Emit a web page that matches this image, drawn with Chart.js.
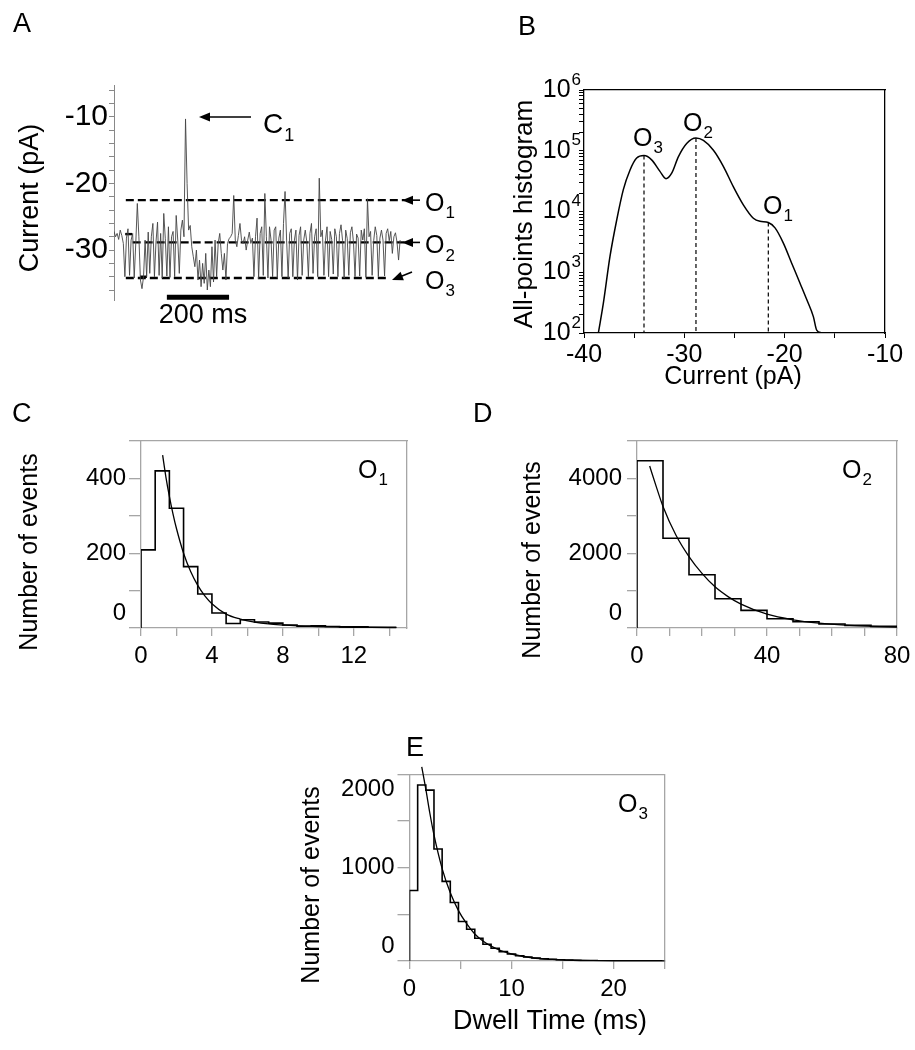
<!DOCTYPE html>
<html>
<head>
<meta charset="utf-8">
<script src="https://cdn.jsdelivr.net/npm/chart.js@4.4.1/dist/chart.umd.min.js"></script>
<style>
  body { margin: 0; background: #fff; }
  #fig { position: relative; width: 915px; height: 1050px; }
  #fig canvas { position: absolute; left: 0; top: 0; }
</style>
</head>
<body>
<div id="fig">
  <canvas id="panelA" width="915" height="1050"></canvas>
  <canvas id="panelB" width="915" height="1050"></canvas>
  <canvas id="panelC" width="915" height="1050"></canvas>
  <canvas id="panelD" width="915" height="1050"></canvas>
  <canvas id="panelE" width="915" height="1050"></canvas>
</div>
<script>
var W = 915, H = 1050;
var FONT = '"Liberation Sans", Arial, Helvetica, sans-serif';
var GRAY = '#a6a6a6';

// ---- A: current trace (pA), one sample every traceStep ms
var traceStep = 5;
var traceValues = [
  -27.2, -28.0, -27.5, -28.4, -27.0, -27.8, -29.0, -34.0, -28.2, -26.8,
  -33.8, -28.5, -27.5, -34.2, -29.0, -23.0, -28.0, -34.5, -35.8, -34.0,
  -28.5, -34.0, -27.3, -33.5, -28.0, -26.0, -34.0, -28.8, -25.8, -33.8,
  -27.5, -34.2, -24.5, -28.3, -33.9, -26.5, -34.1, -28.0, -27.2, -34.0,
  -24.8, -28.5, -33.5, -27.0, -25.5, -28.0, -10.3, -20.0, -27.0, -26.3,
  -29.5, -31.0, -32.5, -30.0, -34.5, -31.5, -35.5, -32.0, -35.0, -30.5,
  -36.0, -33.0, -35.5, -29.5, -34.8, -28.5, -34.0, -29.0, -27.5, -30.5,
  -33.0, -30.5, -34.5, -29.0, -28.3, -28.0, -27.5, -21.8, -28.5, -29.5,
  -27.8, -26.0, -28.5, -29.0, -28.0, -30.0, -28.5, -27.3, -29.0, -28.2,
  -34.0, -28.0, -25.2, -34.3, -27.5, -26.5, -33.8, -21.5, -28.0, -34.2,
  -26.5, -28.5, -34.0, -27.0, -26.5, -34.2, -28.2, -27.0, -34.0, -26.0,
  -21.2, -28.5, -34.2, -27.5, -26.8, -34.0, -28.5, -27.0, -34.5, -27.8,
  -26.5, -33.8, -28.5, -27.0, -28.8, -34.0, -27.5, -26.0, -33.5, -28.0,
  -26.8, -34.0, -19.2, -28.0, -27.0, -33.8, -28.5, -26.5, -34.0, -27.2,
  -28.4, -33.6, -26.8, -28.0, -34.0, -27.5, -26.2, -28.6, -34.2, -27.0,
  -28.3, -33.8, -27.4, -26.5, -28.8, -34.0, -27.6, -28.2, -33.9, -27.0,
  -28.5, -26.8, -34.1, -22.3, -28.0, -27.2, -33.8, -28.6, -26.5, -27.8,
  -34.0, -28.2, -27.0, -28.5, -33.9, -27.5, -26.8, -28.6, -27.2, -30.5,
  -28.0, -27.4, -28.8, -31.5, -28.5
];
var levelNames = ['1', '2', '3'];
var levelValues = [-22.5, -28.85, -34.2];
var levelStart = [38, 60, 38];
var levelEnd = [935, 935, 880];
var markerStart = [36, 84];
var markerEnd = [58, 106];
var markerValues = [-27.6, -34.0];
var scaleBar = [170, 370];
var scaleBarLevel = -37.1;
var aTicks = [-10, -20, -30];

// ---- B: all-points histogram
var bCurrent = [-38.57, -38.07, -37.41, -36.74, -36.08, -35.42, -34.75, -34.02, -33.26, -32.43,
  -31.83, -31.26, -30.6, -29.77, -28.84, -28.1, -27.1, -26.1, -25.12, -24.12,
  -23.12, -22.46, -21.63, -20.96, -20.13, -19.3, -18.47, -17.8, -17.14, -16.81, -16.3];
var bCounts = [100, 310, 1820, 7240, 22900, 47900, 75900, 83200, 70800, 45700,
  34700, 42700, 79400, 132000, 162000, 148000, 102000, 55000, 25700, 12900,
  7760, 6900, 6600, 5370, 3020, 1410, 660, 355, 186, 112, 100];
var bPeakCurrent = [-34.02, -28.84, -21.63];
var bPeakCount = [83200, 162000, 6600];
var bXTicks = [-40, -30, -20, -10];
var bYExp = [2, 3, 4, 5, 6];

// ---- C: O1 dwell times
var cBinWidth = 0.8;
var cCounts = [209, 420, 320, 164, 91, 40, 12, 22, 16, 13, 8, 5, 6, 4, 3, 3, 2, 2];
var cFitTime = [1.22, 1.4, 1.6, 1.8, 2.0, 2.4, 2.8, 3.2, 3.6, 4.0, 4.8, 5.6, 6.4, 7.2, 8, 9, 10, 11, 12, 13, 14.4];
var cFitCount = [462, 405, 352, 306, 266, 200, 151, 114, 86, 65, 37, 24, 16, 11, 8, 5, 4, 3, 2, 1.5, 1];
var cXTicks = [0, 4, 8, 12];
var cYTicks = [0, 200, 400];

// ---- D: O2 dwell times
var dBinWidth = 8;
var dCounts = [4471, 2400, 1422, 782, 471, 249, 169, 107, 71, 44];
var dFitTime = [3.9, 6, 8, 12, 16, 20, 24, 28, 32, 40, 48, 56, 64, 72, 80];
var dFitCount = [4330, 3760, 3250, 2480, 1910, 1460, 1100, 840, 640, 370, 220, 130, 75, 45, 25];
var dXTicks = [0, 40, 80];
var dYTicks = [0, 2000, 4000];

// ---- E: O3 dwell times
var eBinWidth = 0.8;
var eCounts = [756, 1885, 1830, 1200, 853, 627, 423, 340, 244, 179, 136, 100, 75, 57, 43, 32,
  24, 18, 13, 10, 8, 6, 4, 3, 2, 2, 1, 1, 1, 1, 1];
var eFitTime = [1.2, 1.6, 2.0, 2.4, 3.2, 4.0, 4.8, 5.6, 6.4, 7.2, 8, 9, 10, 12, 14, 16, 18, 20, 25];
var eFitCount = [2080, 1840, 1580, 1350, 990, 730, 540, 400, 290, 215, 160, 110, 75, 35, 17, 8, 4, 2, 0.3];
var eXTicks = [0, 10, 20];
var eYTicks = [0, 1000, 2000];

function drawText(ctx, t) {
  ctx.save();
  ctx.translate(t.x, t.y);
  if (t.rot) ctx.rotate(t.rot);
  ctx.fillStyle = '#000';
  ctx.textAlign = 'left';
  ctx.textBaseline = t.base || 'middle';
  var small = Math.round(t.size * 0.66);
  ctx.font = t.size + 'px ' + FONT;
  var w = ctx.measureText(t.text).width, sw = 0;
  var extra = t.sub || t.sup;
  if (extra) {
    ctx.font = small + 'px ' + FONT;
    sw = ctx.measureText(extra).width + 1;
  }
  var total = w + sw;
  var x0 = t.align === 'right' ? -total : (t.align === 'center' ? -total / 2 : 0);
  ctx.font = t.size + 'px ' + FONT;
  ctx.fillText(t.text, x0, 0);
  if (extra) {
    ctx.font = small + 'px ' + FONT;
    ctx.fillText(extra, x0 + w + 1, t.sub ? t.size * 0.38 : -t.size * 0.4);
  }
  ctx.restore();
}

function arrowLine(ctx, x1, y1, x2, y2) {
  var a = Math.atan2(y2 - y1, x2 - x1), L = 11, hw = 4.5;
  var c = Math.cos(a), s = Math.sin(a);
  ctx.save();
  ctx.strokeStyle = '#000';
  ctx.fillStyle = '#000';
  ctx.lineWidth = 1.6;
  ctx.beginPath();
  ctx.moveTo(x1, y1);
  ctx.lineTo(x2 - L * 0.8 * c, y2 - L * 0.8 * s);
  ctx.stroke();
  ctx.beginPath();
  ctx.moveTo(x2, y2);
  ctx.lineTo(x2 - L * c + hw * s, y2 - L * s - hw * c);
  ctx.lineTo(x2 - L * c - hw * s, y2 - L * s + hw * c);
  ctx.closePath();
  ctx.fill();
  ctx.restore();
}

// tick labels, titles and annotations drawn on top of the chart
function figPlugin(spec) {
  return {
    id: 'fig' + spec.id,
    afterDraw: function (chart) {
      var ctx = chart.ctx, a = chart.chartArea;
      var xs = chart.scales.x, ys = chart.scales.y;
      (spec.xTicks || []).forEach(function (v) {
        drawText(ctx, {text: String(v), x: xs.getPixelForValue(v), y: a.bottom + spec.xGap, size: spec.tickSize, align: 'center'});
      });
      (spec.yTicks || []).forEach(function (t) {
        var y = ys.getPixelForValue(t.v);
        if (spec.clamp) y = Math.min(Math.max(y, a.top + spec.clamp), a.bottom - spec.clamp);
        drawText(ctx, {text: t.text, sup: t.sup, x: a.left - spec.yGap, y: y, size: spec.tickSize, align: 'right'});
      });
      (spec.texts || []).forEach(function (t) { drawText(ctx, t); });
      if (spec.extra) spec.extra(chart, ctx);
    }
  };
}

function pad(area, yw, xh) {
  return {left: area.l - yw, top: area.t, right: W - area.r, bottom: H - area.b - xh};
}

function baseOptions(area, yw, xh) {
  return {
    responsive: false, animation: false, devicePixelRatio: 1, events: [],
    layout: {padding: pad(area, yw, xh)},
    plugins: {legend: {display: false}, tooltip: {enabled: false}}
  };
}

function frameAxis(pos, min, max, color) {
  return {
    type: 'linear', position: pos, min: min, max: max,
    ticks: {display: false}, grid: {display: false},
    border: {color: color, width: 1.3},
    afterFit: function (s) { if (pos === 'top') s.height = 0; else s.width = 0; }
  };
}

// ---------------- A ----------------
(function () {
  var area = {l: 114, t: 85, r: 425, b: 300};
  var sets = [{
    data: traceValues.map(function (v, i) { return {x: i * traceStep, y: v}; }),
    borderColor: '#444', borderWidth: 0.9, pointRadius: 0, tension: 0
  }];
  levelValues.forEach(function (v, i) {
    sets.push({
      data: [{x: levelStart[i], y: v}, {x: levelEnd[i], y: v}],
      borderColor: '#000', borderWidth: 2.4, borderDash: [8, 4], pointRadius: 0
    });
  });
  markerValues.forEach(function (v, i) {
    sets.push({
      data: [{x: markerStart[i], y: v}, {x: markerEnd[i], y: v}],
      borderColor: '#000', borderWidth: 2.4, pointRadius: 0
    });
  });
  sets.push({
    data: [{x: scaleBar[0], y: scaleBarLevel}, {x: scaleBar[1], y: scaleBarLevel}],
    borderColor: '#000', borderWidth: 5, pointRadius: 0, clip: false
  });
  var opts = baseOptions(area, 5, 0);
  opts.scales = {
    x: {type: 'linear', display: false, min: 0, max: 1000},
    y: {
      type: 'linear', min: -37.5, max: -5.2,
      ticks: {display: false, stepSize: 2, includeBounds: false},
      grid: {drawOnChartArea: false, tickLength: 5, color: '#888'},
      border: {color: '#888', width: 1},
      afterFit: function (s) { s.width = 5; }
    }
  };
  new Chart(document.getElementById('panelA'), {
    type: 'line', data: {datasets: sets}, options: opts,
    plugins: [figPlugin({
      id: 'A', tickSize: 30, yGap: 6,
      yTicks: aTicks.map(function (v) { return {v: v, text: String(v)}; }),
      texts: [
        {text: 'A', x: 13, y: 32, size: 27, base: 'alphabetic'},
        {text: 'Current (pA)', x: 31, y: 198, size: 27, rot: -Math.PI / 2, align: 'center'},
        {text: '200 ms', x: 203, y: 316, size: 27, align: 'center'}
      ],
      extra: function (chart, ctx) {
        var ys = chart.scales.y;
        levelValues.forEach(function (v, i) {
          var y = ys.getPixelForValue(v);
          if (i < 2) arrowLine(ctx, 420, y, 402, y);
          else arrowLine(ctx, 412, y - 6, 392, y + 2);
          drawText(ctx, {text: 'O', sub: levelNames[i], x: 425, y: y + 4, size: 25});
        });
        var cy = ys.getPixelForValue(-10);
        arrowLine(ctx, 251, cy, 199, cy);
        drawText(ctx, {text: 'C', sub: '1', x: 263, y: cy + 8, size: 28});
      }
    })]
  });
})();

// ---------------- B ----------------
(function () {
  var area = {l: 584, t: 90, r: 885, b: 333};
  var minorTicks = [];
  bYExp.forEach(function (e) {
    if (e === bYExp[bYExp.length - 1]) { minorTicks.push(Math.pow(10, e)); return; }
    for (var k = 1; k <= 9; k++) minorTicks.push(k * Math.pow(10, e));
  });
  var sets = [{
    data: bCurrent.map(function (x, i) { return {x: x, y: bCounts[i]}; }),
    borderColor: '#000', borderWidth: 1.5, pointRadius: 0, cubicInterpolationMode: 'monotone'
  }];
  bPeakCurrent.forEach(function (x, i) {
    sets.push({
      data: [{x: x, y: bPeakCount[i]}, {x: x, y: 100}],
      borderColor: '#000', borderWidth: 1.2, borderDash: [4, 3], pointRadius: 0
    });
  });
  var opts = baseOptions(area, 5, 5);
  opts.scales = {
    x: {
      type: 'linear', min: -40, max: -10,
      ticks: {display: false, stepSize: 5},
      grid: {drawOnChartArea: false, tickLength: 5, color: '#000'},
      border: {color: '#000', width: 1.3},
      afterFit: function (s) { s.height = 5; }
    },
    y: {
      type: 'logarithmic', min: 100, max: 1e6,
      ticks: {display: false},
      afterBuildTicks: function (s) { s.ticks = minorTicks.map(function (v) { return {value: v}; }); },
      grid: {drawOnChartArea: false, tickLength: 5, color: '#000'},
      border: {color: '#000', width: 1.3},
      afterFit: function (s) { s.width = 5; }
    },
    x2: frameAxis('top', -40, -10, '#000'),
    y2: frameAxis('right', 0, 1, '#000')
  };
  new Chart(document.getElementById('panelB'), {
    type: 'line', data: {datasets: sets}, options: opts,
    plugins: [figPlugin({
      id: 'B', tickSize: 25, xGap: 22, yGap: 3,
      xTicks: bXTicks,
      yTicks: bYExp.map(function (e) { return {v: Math.pow(10, e), text: '10', sup: String(e)}; }),
      texts: [
        {text: 'B', x: 518, y: 35, size: 27, base: 'alphabetic'},
        {text: 'All-points histogram', x: 525, y: 214, size: 26, rot: -Math.PI / 2, align: 'center'},
        {text: 'Current (pA)', x: 733, y: 377, size: 25, align: 'center'},
        {text: 'O', sub: '3', x: 633, y: 139, size: 25},
        {text: 'O', sub: '2', x: 683, y: 124, size: 25},
        {text: 'O', sub: '1', x: 763, y: 207, size: 25}
      ]
    })]
  });
})();

// ---------------- C, D, E: dwell-time histograms ----------------
function histPanel(id, p) {
  var steps = [{x: 0, y: 0}];
  p.counts.forEach(function (c, i) { steps.push({x: i * p.binWidth, y: c}); });
  steps.push({x: p.counts.length * p.binWidth, y: p.counts[p.counts.length - 1]});
  var fit = p.fitT.map(function (t, i) { return {x: t, y: p.fitC[i]}; });
  var opts = baseOptions(p.area, p.yLen, p.xLen);
  opts.scales = {
    x: {
      type: 'linear', min: 0, max: p.xMax,
      ticks: {display: false, stepSize: p.xStep, includeBounds: false},
      grid: {drawOnChartArea: false, tickLength: p.xLen, color: GRAY, lineWidth: 1.3},
      border: {color: GRAY, width: 1.3},
      afterFit: function (s) { s.height = p.xLen; }
    },
    y: {
      type: 'linear', min: 0, max: p.yMax,
      ticks: {display: false, stepSize: p.yStep, includeBounds: false},
      grid: {drawOnChartArea: false, tickLength: p.yLen, color: GRAY, lineWidth: 1.3},
      border: {color: GRAY, width: 1.3},
      afterFit: function (s) { s.width = p.yLen; }
    },
    x2: frameAxis('top', 0, p.xMax, GRAY),
    y2: frameAxis('right', 0, p.yMax, GRAY)
  };
  new Chart(document.getElementById(id), {
    type: 'line',
    data: {datasets: [
      {data: steps, stepped: 'before', borderColor: '#000', borderWidth: 1.6, pointRadius: 0},
      {data: fit, cubicInterpolationMode: 'monotone', borderColor: '#000', borderWidth: 1.3, pointRadius: 0, clip: false}
    ]},
    options: opts,
    plugins: [figPlugin({
      id: id, tickSize: 24, xGap: 28, yGap: 15, clamp: 15,
      xTicks: p.xTicks,
      yTicks: p.yTicks.map(function (v) { return {v: v, text: String(v)}; }),
      texts: p.texts
    })]
  });
}

histPanel('panelC', {
  area: {l: 141, t: 441, r: 407, b: 628}, xMax: 15, xStep: 2, yMax: 500, yStep: 100, xLen: 8, yLen: 12,
  binWidth: cBinWidth, counts: cCounts, fitT: cFitTime, fitC: cFitCount, xTicks: cXTicks, yTicks: cYTicks,
  texts: [
    {text: 'C', x: 12, y: 422, size: 27, base: 'alphabetic'},
    {text: 'Number of events', x: 30, y: 552, size: 25, rot: -Math.PI / 2, align: 'center'},
    {text: 'O', sub: '1', x: 358, y: 471, size: 25}
  ]
});

histPanel('panelD', {
  area: {l: 637, t: 441, r: 897, b: 628}, xMax: 80, xStep: 10, yMax: 5000, yStep: 1000, xLen: 8, yLen: 10,
  binWidth: dBinWidth, counts: dCounts, fitT: dFitTime, fitC: dFitCount, xTicks: dXTicks, yTicks: dYTicks,
  texts: [
    {text: 'D', x: 473, y: 422, size: 27, base: 'alphabetic'},
    {text: 'Number of events', x: 533, y: 560, size: 25, rot: -Math.PI / 2, align: 'center'},
    {text: 'O', sub: '2', x: 842, y: 471, size: 25}
  ]
});

histPanel('panelE', {
  area: {l: 409.5, t: 774.3, r: 664.5, b: 961}, xMax: 25, xStep: 5, yMax: 2000, yStep: 500, xLen: 8, yLen: 12,
  binWidth: eBinWidth, counts: eCounts, fitT: eFitTime, fitC: eFitCount, xTicks: eXTicks, yTicks: eYTicks,
  texts: [
    {text: 'E', x: 406, y: 756, size: 27, base: 'alphabetic'},
    {text: 'Number of events', x: 312, y: 885, size: 25, rot: -Math.PI / 2, align: 'center'},
    {text: 'Dwell Time (ms)', x: 550, y: 1022, size: 27, align: 'center'},
    {text: 'O', sub: '3', x: 618, y: 805, size: 25}
  ]
});
</script>
</body>
</html>
